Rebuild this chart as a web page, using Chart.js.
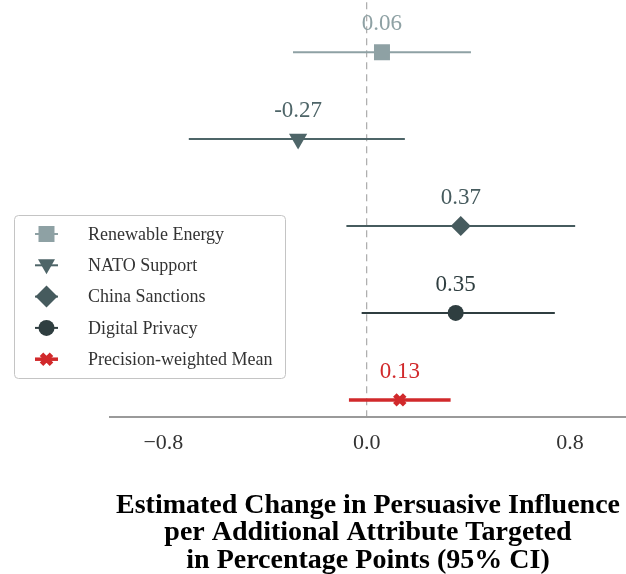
<!DOCTYPE html>
<html>
<head>
<meta charset="utf-8">
<script src="https://cdn.jsdelivr.net/npm/chart.js@4/dist/chart.umd.min.js"></script>
<style>
  body { margin: 0; background: #fff; }
  #wrap { width: 626px; height: 574px; }
</style>
</head>
<body>
<div id="wrap"><canvas id="forest" width="626" height="574"></canvas></div>
<script>
// values
const categories = ['Renewable Energy', 'NATO Support', 'China Sanctions', 'Digital Privacy', 'Precision-weighted Mean'];
const estimates = [0.06, -0.27, 0.37, 0.35, 0.13];
const ciLow = [-0.29, -0.70, -0.08, -0.02, -0.07];
const ciHigh = [0.41, 0.15, 0.82, 0.74, 0.33];
const rowPos = [4, 3, 2, 1, 0];
const valueLabels = ['0.06', '-0.27', '0.37', '0.35', '0.13'];
const xTicks = [-0.8, 0, 0.8];

const colors = ['#8ea1a4', '#4e6568', '#465b5e', '#2f3e40', '#d1292b'];
const shapes = ['rect', 'triangle', 'rectRot', 'circle', 'crossRot'];
const radii = [11.3, 10.5, 10, 8, 7];
const lineWidths = [2, 2, 2, 2, 3.5];
const serif = "'Liberation Serif', 'Times New Roman', serif";

const datasets = categories.map((name, i) => ({
  label: name,
  data: [
    { x: ciLow[i], y: rowPos[i] },
    { x: estimates[i], y: rowPos[i] },
    { x: ciHigh[i], y: rowPos[i] },
  ],
  showLine: true,
  borderColor: colors[i],
  backgroundColor: colors[i],
  borderWidth: lineWidths[i],
  pointStyle: shapes[i],
  pointRotation: i === 1 ? 180 : 0,
  pointRadius: [0, radii[i], 0],
  pointBorderWidth: i === 4 ? 5 : 0,
  pointBorderColor: colors[i],
  pointBackgroundColor: colors[i],
  order: 10 - i,
}));

// dashed reference line at zero
datasets.push({
  label: 'zero',
  data: [{ x: 0, y: -0.2 }, { x: 0, y: 4.6 }],
  showLine: true,
  borderColor: '#999',
  borderWidth: 1,
  borderDash: [7, 5],
  pointRadius: 0,
  order: 20,
});

// numbers above the markers
const valueLabelPlugin = {
  id: 'valueLabels',
  afterDatasetsDraw(chart) {
    const ctx = chart.ctx;
    ctx.save();
    ctx.font = '23px ' + serif;
    ctx.textAlign = 'center';
    ctx.textBaseline = 'alphabetic';
    categories.forEach((_, i) => {
      const pt = chart.getDatasetMeta(i).data[1];
      ctx.fillStyle = colors[i];
      ctx.fillText(valueLabels[i], pt.x, pt.y - 22);
    });
    ctx.restore();
  }
};

function drawMarker(ctx, shape, x, y, color) {
  ctx.fillStyle = color;
  ctx.strokeStyle = color;
  ctx.beginPath();
  if (shape === 'rect') {
    ctx.rect(x - 8, y - 8, 16, 16);
    ctx.fill();
  } else if (shape === 'triangle') {
    ctx.moveTo(x - 8.5, y - 6);
    ctx.lineTo(x + 8.5, y - 6);
    ctx.lineTo(x, y + 9);
    ctx.closePath();
    ctx.fill();
  } else if (shape === 'rectRot') {
    ctx.moveTo(x, y - 11);
    ctx.lineTo(x + 11, y);
    ctx.lineTo(x, y + 11);
    ctx.lineTo(x - 11, y);
    ctx.closePath();
    ctx.fill();
  } else if (shape === 'circle') {
    ctx.arc(x, y, 8, 0, Math.PI * 2);
    ctx.fill();
  } else {
    ctx.lineWidth = 5;
    ctx.moveTo(x - 5, y - 5);
    ctx.lineTo(x + 5, y + 5);
    ctx.moveTo(x + 5, y - 5);
    ctx.lineTo(x - 5, y + 5);
    ctx.stroke();
  }
}

// legend box in the lower left of the plot
const legendPlugin = {
  id: 'boxLegend',
  afterDraw(chart) {
    const ctx = chart.ctx;
    const bx = 14, by = 215, bw = 271, bh = 163;
    ctx.save();
    ctx.beginPath();
    ctx.roundRect(bx + 0.5, by + 0.5, bw, bh, 4);
    ctx.fillStyle = 'rgba(255,255,255,0.9)';
    ctx.fill();
    ctx.strokeStyle = '#c4c4c4';
    ctx.lineWidth = 1;
    ctx.stroke();
    categories.forEach((name, i) => {
      const y = 234 + i * 31.3;
      ctx.strokeStyle = colors[i];
      ctx.lineWidth = lineWidths[i];
      ctx.beginPath();
      ctx.moveTo(35, y);
      ctx.lineTo(58, y);
      ctx.stroke();
      drawMarker(ctx, shapes[i], 46.5, y, colors[i]);
      ctx.fillStyle = '#333';
      ctx.font = '18px ' + serif;
      ctx.textBaseline = 'middle';
      ctx.textAlign = 'left';
      ctx.fillText(name, 88, y + 1);
    });
    ctx.restore();
  }
};

new Chart(document.getElementById('forest').getContext('2d'), {
  type: 'scatter',
  data: { datasets: datasets },
  options: {
    responsive: false,
    devicePixelRatio: 1,
    animation: false,
    layout: { padding: { left: 110, right: 0, top: 0, bottom: 0 } },
    plugins: {
      legend: { display: false },
      tooltip: { enabled: false },
    },
    scales: {
      x: {
        type: 'linear',
        min: -1.01,
        max: 1.02,
        afterBuildTicks: (axis) => { axis.ticks = xTicks.map(v => ({ value: v })); },
        ticks: {
          padding: 13,
          color: '#333',
          font: { family: serif, size: 22 },
          callback: (v) => (v < 0 ? '\u2212' : '') + Math.abs(v).toFixed(1),
        },
        grid: { display: false, drawTicks: false },
        border: { display: true, color: '#9a9a9a', width: 2 },
        title: {
          display: true,
          text: ['Estimated Change in Persuasive Influence', 'per Additional Attribute Targeted', 'in Percentage Points (95% CI)'],
          color: '#000',
          font: { family: serif, size: 28, weight: 'bold', lineHeight: 0.98 },
          padding: { top: 22, bottom: 0 },
        },
      },
      y: {
        type: 'linear',
        min: -0.2,
        max: 4.6,
        display: false,
      },
    },
  },
  plugins: [valueLabelPlugin, legendPlugin],
});
</script>
</body>
</html>
